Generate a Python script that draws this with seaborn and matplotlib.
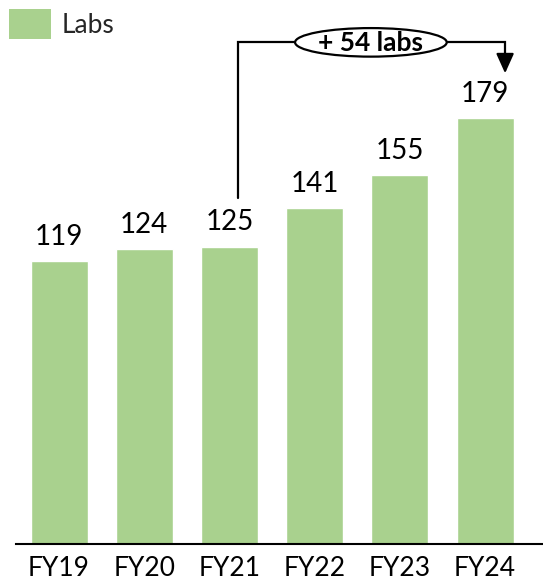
import matplotlib
matplotlib.use("Agg")
import matplotlib.pyplot as plt
from matplotlib.patches import Ellipse, Patch
import seaborn as sns
import pandas as pd

years = ["FY19", "FY20", "FY21", "FY22", "FY23", "FY24"]
labs = [119, 124, 125, 141, 155, 179]
series_name = "Labs"
growth_label = "+ 54 labs"

BAR_COLOR = "#A9D18E"
FONT = "Lato"

sns.set_theme(style="white")
plt.rcParams["font.family"] = [FONT, "DejaVu Sans"]

df = pd.DataFrame({"year": years, "labs": labs})

fig = plt.figure(figsize=(5.43, 5.81), dpi=100)
ax = fig.add_axes([0.0295, 0.0637, 0.9705, 0.9363])

sns.barplot(data=df, x="year", y="labs", color=BAR_COLOR, saturation=1,
            width=0.67, ax=ax)

ax.set_xlim(-0.505, 5.68)
ax.set_ylim(0, 228.6)

# value labels above each bar
for i, v in enumerate(labs):
    ax.annotate(f"{v}", (i, v), xytext=(0, 8), textcoords="offset points",
                ha="center", va="bottom", fontsize=20, color="black")

# axis styling
for side in ["top", "right", "left"]:
    ax.spines[side].set_visible(False)
ax.spines["bottom"].set_color("black")
ax.spines["bottom"].set_linewidth(1.5)
ax.set_yticks([])
ax.set_xlabel("")
ax.set_ylabel("")
ax.tick_params(axis="x", length=0, pad=9, labelsize=19, colors="black")

# growth bracket from FY21 to FY24
x_start = 2 + 0.105
x_end = 5 + 0.235
y_top = 210.8
ax.plot([x_start, x_start, x_end, x_end], [145.5, y_top, y_top, 204.0],
        color="black", lw=1.6, solid_joinstyle="miter", zorder=3)
ax.annotate("", xy=(x_end, 197.8), xytext=(x_end, 204.8),
            arrowprops=dict(arrowstyle="-|>,head_length=1.0,head_width=0.45",
                            color="black", lw=1.6, shrinkA=0, shrinkB=0),
            zorder=4)
ell = Ellipse((3.66, y_top), width=1.78, height=12.0, facecolor="white",
              edgecolor="black", lw=1.6, zorder=5)
ax.add_patch(ell)
ax.text(3.66, y_top - 0.3, growth_label, ha="center", va="center",
        fontsize=19, fontweight="bold", color="black", zorder=6)

# legend
handle = Patch(facecolor=BAR_COLOR, edgecolor="none", label=series_name)
fig.legend(handles=[handle], loc="upper left", bbox_to_anchor=(0.0, 1.0),
           frameon=False, fontsize=19, handlelength=1.6, handleheight=1.35,
           handletextpad=0.4, borderaxespad=0.0, borderpad=0.35)

fig.savefig("out.png", dpi=100)
